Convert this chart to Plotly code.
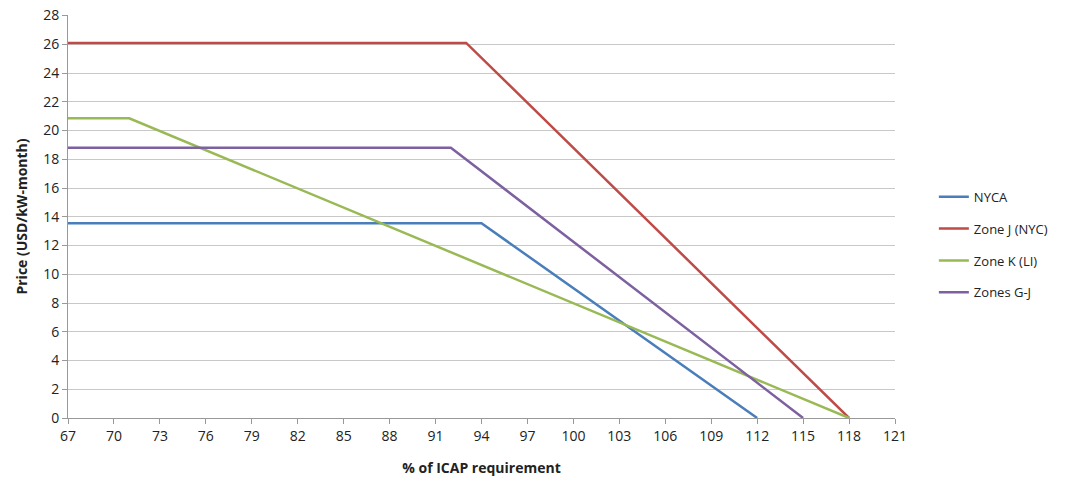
import plotly.graph_objects as go

# ICAP demand curves: (% of requirement, price USD/kW-month)
nyca_x = [67, 94, 112]
nyca_y = [13.55, 13.55, 0]

zone_j_x = [67, 93, 118]
zone_j_y = [26.1, 26.1, 0]

zone_k_x = [67, 71, 118]
zone_k_y = [20.85, 20.85, 0]

zones_gj_x = [67, 92, 115]
zones_gj_y = [18.8, 18.8, 0]

x_ticks = list(range(67, 122, 3))
y_ticks = list(range(0, 29, 2))

series = [
    ("NYCA", nyca_x, nyca_y, "#4A7EBB"),
    ("Zone J (NYC)", zone_j_x, zone_j_y, "#BE4B48"),
    ("Zone K (LI)", zone_k_x, zone_k_y, "#98B954"),
    ("Zones G-J", zones_gj_x, zones_gj_y, "#7D60A0"),
]

fig = go.Figure()
for name, xs, ys, color in series:
    fig.add_trace(
        go.Scatter(
            x=xs,
            y=ys,
            mode="lines",
            name=name,
            legendgroup=name,
            line={"color": color, "width": 2.5},
        )
    )

fig.update_layout(
    width=1077,
    height=483,
    paper_bgcolor="white",
    plot_bgcolor="white",
    margin={"l": 68, "r": 182, "t": 15, "b": 65},
    font={"family": "Open Sans, Liberation Sans, sans-serif", "size": 14, "color": "#222"},
    legend={
        "x": 1.047,
        "y": 0.43,
        "yanchor": "middle",
        "xanchor": "left",
        "font": {"size": 13},
        "tracegroupgap": 12,
    },
)
fig.update_xaxes(
    range=[67, 121],
    tickvals=x_ticks,
    showgrid=False,
    showline=True,
    linecolor="#999",
    ticks="outside",
    tickcolor="#999",
    ticklen=5,
    automargin=False,
    title={"text": "<b>% of ICAP requirement</b>", "font": {"size": 14}, "standoff": 19},
    zeroline=False,
)
fig.update_yaxes(
    range=[0, 28.04],
    tickvals=y_ticks,
    showgrid=True,
    gridcolor="#C8C8C8",
    showline=True,
    linecolor="#999",
    ticks="outside",
    tickcolor="#999",
    ticklen=5,
    automargin=False,
    title={"text": "<b>Price (USD/kW-month)</b>", "font": {"size": 14}, "standoff": 12},
    zeroline=False,
)

# drop the default page margin so the figure sits at the window's top-left corner
fig.write_html(
    "out.html",
    config={"displayModeBar": False},
    post_script="document.body.style.margin = '0';",
)
